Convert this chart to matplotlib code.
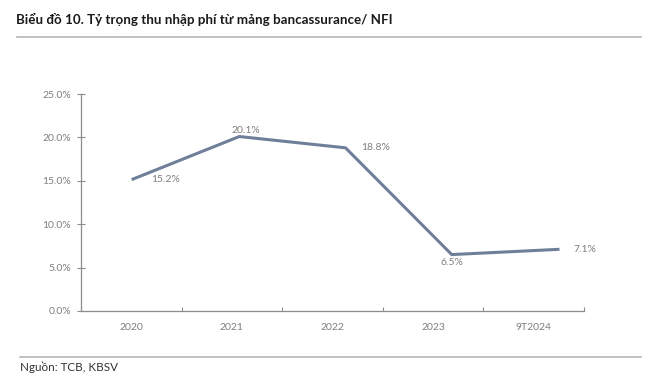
import matplotlib
matplotlib.use("Agg")
import matplotlib.pyplot as plt
from matplotlib.lines import Line2D

categories = ["2020", "2021", "2022", "2023", "9T2024"]
share = [15.2, 20.1, 18.8, 6.5, 7.1]
labels = ["15.2%", "20.1%", "18.8%", "6.5%", "7.1%"]
# label offsets in points (dx, dy) and alignment
offsets = [(13, 0, "left", "center"), (5, 4.5, "center", "center"),
           (11, 0, "left", "center"), (0, -5.5, "center", "center"),
           (11, 0, "left", "center")]
yticks = [0, 5, 10, 15, 20, 25]

plt.rcParams["font.family"] = ["Lato", "DejaVu Sans"]

fig = plt.figure(figsize=(6.52, 3.89), dpi=100)
ax = fig.add_axes([81 / 652, 1 - 311 / 389, 503 / 652, 217 / 389])

line_col = "#6F7F9A"
axis_col = "#8C8C8C"
text_col = "#7F7F7F"

# category axis
ax.set_xlim(0, len(categories))
ax.set_xticks([i + 0.5 for i in range(len(categories))])
ax.set_xticklabels(categories)
ax.set_xticks(range(len(categories) + 1), minor=True)
ax.tick_params(axis="x", which="major", length=0, pad=9, labelsize=7.5, labelcolor=text_col)
ax.tick_params(axis="x", which="minor", direction="in", length=3, color=axis_col, width=0.8)

ax.set_ylim(0, 25)
ax.set_yticks(yticks)
ax.set_yticklabels([f"{v:.1f}%" for v in yticks])
ax.tick_params(axis="y", direction="inout", length=6, color=axis_col, width=0.8,
               labelsize=7.5, labelcolor=text_col, pad=4)

for s in ["top", "right"]:
    ax.spines[s].set_visible(False)
for s in ["left", "bottom"]:
    ax.spines[s].set_color(axis_col)
    ax.spines[s].set_linewidth(0.9)

# line drawn on a twin axis (points are slightly offset from category centers in the source)
ax2 = ax.twiny()
ax2.set_xlim(-0.49, 4.245)
ax2.set_ylim(0, 25)
ax2.axis("off")
xs = list(range(len(share)))
ax2.plot(xs, share, color=line_col, lw=2.2, solid_joinstyle="miter")
for x, y, lab, (dx, dy, ha, va) in zip(xs, share, labels, offsets):
    ax2.annotate(lab, (x, y), xytext=(dx, dy), textcoords="offset points",
                 ha=ha, va=va, fontsize=7.5, color=text_col)

fig.text(16 / 652, 1 - 19 / 389, "Biểu đồ 10. Tỷ trọng thu nhập phí từ mảng bancassurance/ NFI",
         fontsize=9.6, fontweight="bold", color="#1a1a1a", ha="left", va="center")
fig.add_artist(Line2D([17 / 652, 641 / 652], [1 - 37 / 389] * 2, color="#B5B5B5", lw=1.2))
fig.add_artist(Line2D([20 / 652, 641 / 652], [1 - 357 / 389] * 2, color="#B5B5B5", lw=1.2))
fig.text(20 / 652, 1 - 367 / 389, "Nguồn: TCB, KBSV", fontsize=8.4, color="#333333",
         ha="left", va="center")

fig.savefig("out.png", dpi=100)
